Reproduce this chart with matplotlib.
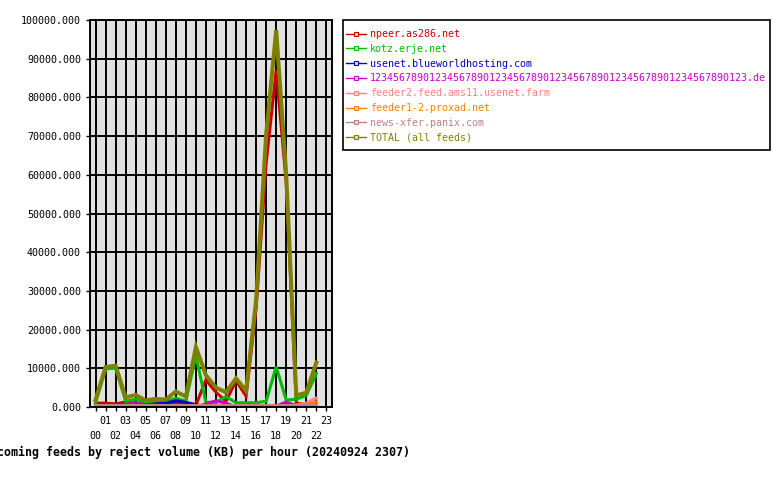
import matplotlib
matplotlib.use('Agg')
import matplotlib.pyplot as plt
from matplotlib.lines import Line2D
from matplotlib.patches import Rectangle

# hours of the day with data (00..22), axis shows 00..23
hours = list(range(23))
hour_labels = ['%02d' % h for h in range(24)]

feeds = ['npeer.as286.net', 'kotz.erje.net', 'usenet.blueworldhosting.com',
         '123456789012345678901234567890123456789012345678901234567890123.de',
         'feeder2.feed.ams11.usenet.farm', 'feeder1-2.proxad.net',
         'news-xfer.panix.com', 'TOTAL (all feeds)']
colors = ['#cc0000', '#00bb00', '#0000cc', '#cc00cc', '#ff8080', '#ff8000', '#c08080', '#808000']

npeer = [1000, 1000, 800, 1300, 1000, 800, 800, 900, 900, 700, 500, 7000, 3800, 1500,
         6800, 2800, 25500, 63000, 87000, 58000, 1000, 600, 300]
kotz = [1000, 9800, 10100, 1500, 2000, 1200, 1600, 1300, 2300, 1500, 13300, 1200, 1200, 2700,
        1100, 1100, 1100, 1500, 10400, 1800, 2000, 3000, 8600]
blueworld = [0, 0, 0, 300, 500, 400, 800, 1000, 1600, 1200, 600, 0, 0, 0,
             0, 0, 0, 0, 0, 0, 0, 0, 0]
longname = [0, 0, 0, 600, 1000, 500, 500, 400, 300, 200, 0, 800, 1600, 1000,
            0, 0, 0, 0, 200, 1300, 300, 0, 0]
ams11 = [0, 0, 0, 0, 0, 0, 0, 0, 0, 0, 0, 0, 0, 0,
         0, 0, 0, 0, 0, 0, 500, 1000, 2300]
proxad = [0, 0, 300, 300, 300, 300, 300, 300, 200, 0, 0, 0, 0, 0,
          0, 0, 0, 0, 0, 0, 300, 500, 1300]
panix = [500] * 23
total = [1800, 10300, 10700, 2500, 3100, 1700, 2100, 1900, 4000, 2700, 15500, 8200, 5000, 3800,
         7400, 4200, 27600, 70500, 97400, 60000, 3000, 3700, 11500]

series = [npeer, kotz, blueworld, longname, ams11, proxad, panix, total]

mono = 'DejaVu Sans Mono'
fig = plt.figure(figsize=(7.8, 4.8), dpi=100)
ax = fig.add_axes([90 / 780, 1 - 407 / 480, 242 / 780, 387 / 480])
ax.set_facecolor('#e0e0e0')

for vals, col in zip(series, colors):
    lw = 2.9 if col == '#808000' else 2.2
    ax.plot(hours, vals, color=col, linewidth=lw, solid_joinstyle='miter')

ax.set_xlim(-0.55, 23.56)
ax.set_ylim(0, 100000)
ax.set_xticks(range(24))
ax.set_xticklabels([lbl if int(lbl) % 2 else '\n' + lbl for lbl in hour_labels])
ax.set_yticks(range(0, 100001, 10000))
ax.set_yticklabels(['%.3f' % v for v in range(0, 100001, 10000)])
for lbl in ax.get_xticklabels():
    lbl.set_linespacing(1.6)
for lbl in ax.get_xticklabels() + ax.get_yticklabels():
    lbl.set_fontfamily(mono)
    lbl.set_fontsize(7.2)
ax.tick_params(axis='x', length=3, width=1, pad=3.5, colors='black')
ax.tick_params(axis='y', length=3, width=1, pad=3.5, colors='black')
ax.grid(True, color='black', linewidth=1.4)
ax.set_axisbelow(True)
for sp in ax.spines.values():
    sp.set_linewidth(1.4)

# legend box
fig.patches.append(Rectangle((343 / 780, 1 - 150 / 480), 427 / 780, 130 / 480,
                             transform=fig.transFigure, fill=False,
                             edgecolor='black', linewidth=1.2))
handles = [Line2D([0], [0], color=c, linewidth=1, marker='s', markersize=2.5,
                  markerfacecolor='#e0e0e0', markeredgewidth=0.8) for c in colors]
fig.legend(handles, feeds, loc='upper left', bbox_to_anchor=(346 / 780, 1 - 29 / 480),
           prop={'family': mono, 'size': 7.2}, labelcolor='linecolor',
           frameon=False, borderpad=0, labelspacing=0.48, handlelength=2.0,
           handletextpad=0.4, borderaxespad=0)

fig.text(410 / 780, 1 - 452 / 480, 'Incoming feeds by reject volume (KB) per hour (20240924 2307)',
         ha='right', va='center', fontfamily=mono, fontweight='bold', fontsize=8.4)

fig.savefig('out.png', dpi=100)
